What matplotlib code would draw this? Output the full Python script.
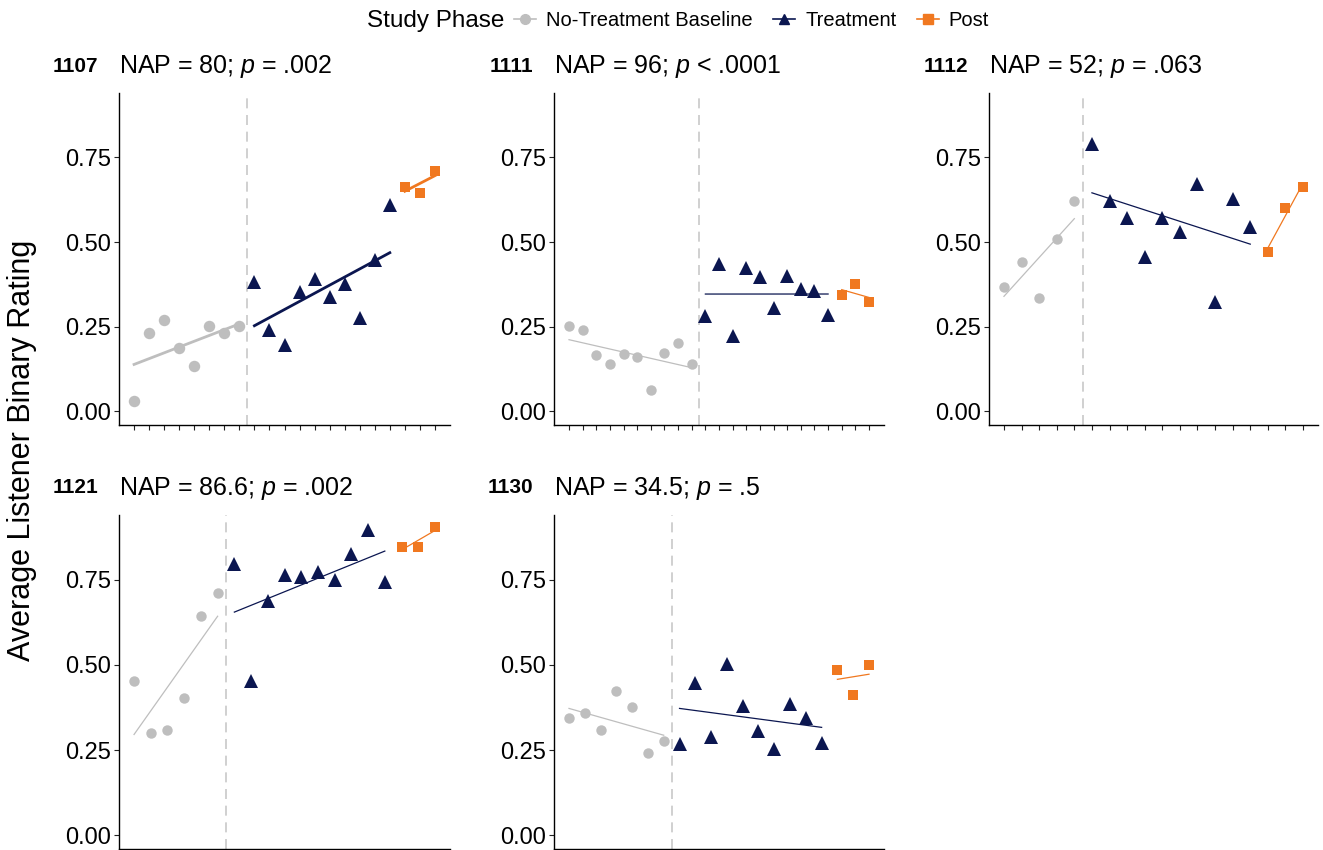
import numpy as np
import matplotlib
matplotlib.use("Agg")
import matplotlib.pyplot as plt
from matplotlib.lines import Line2D

plt.rcParams["font.family"] = ["Liberation Sans", "DejaVu Sans"]
plt.rcParams["mathtext.fontset"] = "custom"
plt.rcParams["mathtext.rm"] = "Liberation Sans"
plt.rcParams["mathtext.it"] = "Liberation Sans:italic"

# participant labels and NAP results
participants = ["1107", "1111", "1112", "1121", "1130"]
nap_values = ["80", "96", "52", "86.6", "34.5"]
p_texts = ["= .002", "< .0001", "= .063", "= .002", "= .5"]

# average listener binary rating per session
baseline_1107 = [0.032, 0.232, 0.269, 0.186, 0.134, 0.252, 0.232, 0.252]
treatment_1107 = [0.381, 0.239, 0.195, 0.352, 0.391, 0.339, 0.377, 0.276, 0.448, 0.610]
post_1107 = [0.664, 0.645, 0.710]

baseline_1111 = [0.253, 0.241, 0.167, 0.139, 0.170, 0.160, 0.062, 0.172, 0.202, 0.139]
treatment_1111 = [0.283, 0.434, 0.223, 0.423, 0.396, 0.304, 0.401, 0.362, 0.355, 0.285]
post_1111 = [0.345, 0.377, 0.322]

baseline_1112 = [0.367, 0.441, 0.336, 0.508, 0.620]
treatment_1112 = [0.788, 0.620, 0.570, 0.455, 0.570, 0.529, 0.670, 0.323, 0.627, 0.544]
post_1112 = [0.471, 0.601, 0.662]

baseline_1121 = [0.452, 0.299, 0.308, 0.402, 0.644, 0.712]
treatment_1121 = [0.795, 0.454, 0.688, 0.763, 0.759, 0.774, 0.748, 0.827, 0.896, 0.742]
post_1121 = [0.847, 0.847, 0.904]

baseline_1130 = [0.345, 0.358, 0.309, 0.423, 0.378, 0.242, 0.277]
treatment_1130 = [0.267, 0.447, 0.289, 0.504, 0.379, 0.306, 0.254, 0.385, 0.344, 0.272]
post_1130 = [0.484, 0.413, 0.499]

phase_names = ["No-Treatment Baseline", "Treatment", "Post"]
phase_colors = ["#BEBEBE", "#0B1650", "#F07820"]
phase_markers = ["o", "^", "s"]

all_phases = [
    [baseline_1107, treatment_1107, post_1107],
    [baseline_1111, treatment_1111, post_1111],
    [baseline_1112, treatment_1112, post_1112],
    [baseline_1121, treatment_1121, post_1121],
    [baseline_1130, treatment_1130, post_1130],
]

W, H = 1323, 850
fig = plt.figure(figsize=(W / 100, H / 100), dpi=100)

# panel boxes in pixels: left, right, top, bottom
boxes = [
    (119, 450, 93, 425),
    (554, 884, 93, 425),
    (989, 1318, 93, 425),
    (119, 450, 515, 849),
    (554, 884, 515, 849),
]

for i, (pid, box) in enumerate(zip(participants, boxes)):
    l, r, t, b = box
    ax = fig.add_axes([l / W, 1 - b / H, (r - l) / W, (b - t) / H])
    phases = all_phases[i]
    big = pid == "1107"
    ms_scale = 1.1 if big else 1.0
    lw_fit = 2.0 if big else 0.9

    start = 1
    n_total = sum(len(p) for p in phases)
    for k, vals in enumerate(phases):
        x = np.arange(start, start + len(vals))
        y = np.array(vals)
        slope, icpt = np.polyfit(x, y, 1)
        ax.plot([x[0], x[-1]], [icpt + slope * x[0], icpt + slope * x[-1]],
                color=phase_colors[k], lw=lw_fit, zorder=2)
        ms = {"o": 7.5, "^": 9.5, "s": 7.0}[phase_markers[k]] * ms_scale
        ax.plot(x, y, linestyle="none", marker=phase_markers[k], ms=ms,
                color=phase_colors[k], markeredgewidth=0, zorder=3)
        start += len(vals)

    # phase change line
    ax.axvline(len(phases[0]) + 0.5, color="#C8C8C8", lw=1.2,
               linestyle=(0, (6, 4)), zorder=1)

    pad = 0.05 * (n_total - 1)
    ax.set_xlim(1 - pad, n_total + pad)
    ax.set_ylim(-0.04, 0.94)
    ax.set_xticks(np.arange(1, n_total + 1))
    ax.set_xticklabels([])
    ax.set_yticks([0, 0.25, 0.5, 0.75])
    ax.set_yticklabels(["0.00", "0.25", "0.50", "0.75"])
    ax.tick_params(axis="both", length=3.5, width=0.8, color="#222222",
                   labelsize=17, pad=2)
    for s in ["top", "right"]:
        ax.spines[s].set_visible(False)
    for s in ["left", "bottom"]:
        ax.spines[s].set_linewidth(1.0)

    ax.annotate(f"NAP = {nap_values[i]}; $p$ {p_texts[i]}", xy=(0, 1),
                xycoords="axes fraction", xytext=(0, 26),
                textcoords="offset pixels", ha="left", va="center",
                fontsize=18)
    ax.annotate(pid, xy=(0, 1), xycoords="axes fraction", xytext=(-21, 27),
                textcoords="offset pixels", ha="right", va="center",
                fontsize=15, fontweight="bold")

fig.text(22 / W, 1 - 450 / H, "Average Listener Binary Rating", rotation=90,
         ha="center", va="center", fontsize=22)

handles = [
    Line2D([0], [0], color=c, marker=m, lw=1.2, ms=7)
    for c, m in zip(phase_colors, phase_markers)
]
fig.text(367 / W, 1 - 21 / H, "Study Phase", ha="left", va="center", fontsize=17.5)
fig.legend(handles, phase_names, loc="center left",
           bbox_to_anchor=(514 / W, 1 - 21 / H), ncol=3, frameon=False,
           fontsize=14.5, handlelength=1.1, handletextpad=0.5,
           columnspacing=1.0, borderpad=0, borderaxespad=0)

fig.savefig("out.png", dpi=100)
